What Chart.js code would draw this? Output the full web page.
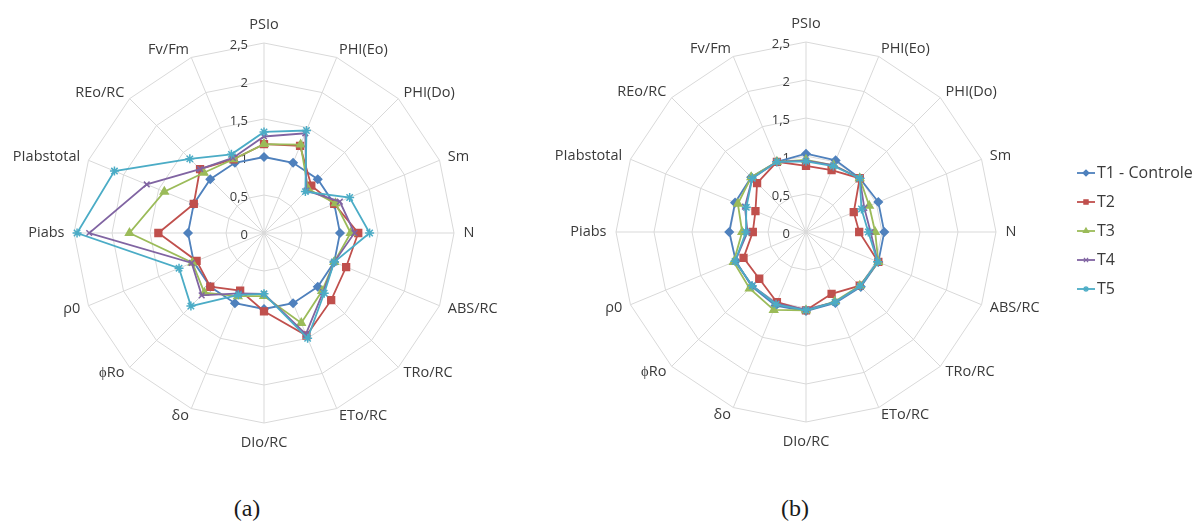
<!DOCTYPE html>
<html>
<head>
<meta charset="utf-8">
<script src="https://cdn.jsdelivr.net/npm/chart.js@4.4.1/dist/chart.umd.min.js"></script>
<style>
  body { margin: 0; background: #fff; width: 1203px; height: 525px; overflow: hidden; position: relative; }
  canvas { position: absolute; top: 0; }
  #chartA { left: 0; }
  #chartB { left: 540px; }
  .cap { position: absolute; top: 494px; font-family: "Liberation Serif", serif; font-size: 24px; line-height: 28px; color: #1a1a1a; transform: translateX(-50%); }
</style>
</head>
<body>
<canvas id="chartA" width="540" height="470"></canvas>
<canvas id="chartB" width="663" height="470"></canvas>
<div class="cap" style="left:247px">(a)</div>
<div class="cap" style="left:795px">(b)</div>
<script>
const categories = ['PSIo', 'PHI(Eo)', 'PHI(Do)', 'Sm', 'N', 'ABS/RC', 'TRo/RC', 'ETo/RC',
  'DIo/RC', 'δo', 'ϕRo', 'ρ0', 'Piabs', 'PIabstotal', 'REo/RC', 'Fv/Fm'];
const seriesNames = ['T1 - Controle', 'T2', 'T3', 'T4', 'T5'];
const tickValues = [0, 0.5, 1, 1.5, 2, 2.5];
const tickLabels = ['0', '0,5', '1', '1,5', '2', '2,5'];

// (a)
const a_T1 = [1, 1, 1, 1, 1, 1, 1, 1, 1, 1, 1, 1, 1, 1, 1, 1];
const a_T2 = [1.17, 1.24, 0.88, 1.0, 1.24, 1.17, 1.25, 1.46, 1.03, 0.82, 1.0, 0.96, 1.39, 1.0, 1.19, 1.05];
const a_T3 = [1.17, 1.26, 0.82, 1.02, 1.14, 1.0, 1.08, 1.28, 0.83, 0.9, 1.11, 1.02, 1.77, 1.42, 1.12, 1.05];
const a_T4 = [1.27, 1.42, 0.79, 1.08, 1.19, 1.0, 1.1, 1.44, 0.8, 0.86, 1.16, 1.03, 2.3, 1.67, 1.19, 1.07];
const a_T5 = [1.33, 1.46, 0.77, 1.22, 1.39, 1.0, 1.12, 1.5, 0.8, 0.88, 1.36, 1.21, 2.46, 2.13, 1.38, 1.12];

// (b)
const b_T1 = [1.03, 1.02, 1.0, 1.03, 1.03, 1.03, 1.02, 1.01, 1.04, 1.05, 1.01, 1.0, 1.01, 1.01, 1.02, 1.0];
const b_T2 = [0.87, 0.88, 1.0, 0.68, 0.70, 1.03, 1.0, 0.88, 1.03, 1.0, 0.87, 0.89, 0.70, 0.72, 0.91, 1.0];
const b_T3 = [0.95, 0.95, 1.0, 0.90, 0.91, 1.03, 1.0, 0.99, 1.03, 1.11, 1.05, 1.03, 0.84, 0.97, 1.02, 1.0];
const b_T4 = [0.94, 0.95, 1.0, 0.83, 0.85, 1.02, 1.01, 1.0, 1.02, 1.02, 1.0, 1.01, 0.77, 0.87, 1.0, 1.0];
const b_T5 = [0.93, 0.94, 1.0, 0.79, 0.82, 1.02, 1.01, 1.0, 1.03, 1.03, 1.0, 1.01, 0.79, 0.85, 1.0, 1.0];

const colors = ['#4F81BD', '#C0504D', '#9BBB59', '#8064A2', '#4BACC6'];
const markers = ['rectRot', 'rect', 'triangle', 'crossRot', 'star'];
const markerSize = [4, 4.8, 4.5, 4, 4.5];

function makeSets(series) {
  return series.map((vals, i) => ({
    label: seriesNames[i],
    data: vals,
    borderColor: colors[i],
    backgroundColor: colors[i],
    pointBackgroundColor: colors[i],
    pointBorderColor: colors[i],
    pointStyle: markers[i],
    pointRadius: markerSize[i],
    pointBorderWidth: 1.5,
    borderWidth: 1.8,
    fill: false,
    order: 5 - i
  }));
}

// axis labels and tick labels drawn Excel-style around the radial scale
const excelLabels = {
  id: 'excelLabels',
  beforeDatasetsDraw(chart) {
    const s = chart.scales.r;
    const ctx = chart.ctx;
    const n = chart.data.labels.length;
    ctx.save();
    ctx.fillStyle = '#3a3a3a';
    ctx.textBaseline = 'middle';
    ctx.font = '14.5px "Open Sans"';
    chart.data.labels.forEach((lab, i) => {
      const a = i * 2 * Math.PI / n;
      const sin = Math.sin(a), cos = Math.cos(a);
      const p = s.getPointPosition(i, s.drawingArea);
      let x = p.x, y = p.y;
      if (Math.abs(sin) < 1e-6) {
        ctx.textAlign = 'center';
        y += cos > 0 ? -18 : 20;
      } else {
        const gap = 1 + 8.5 * sin * sin;
        ctx.textAlign = sin > 0 ? 'left' : 'right';
        x += sin > 0 ? gap : -gap;
        y -= 8.3 * cos;
      }
      ctx.fillText(lab, x, y);
    });
    ctx.font = '13px "Open Sans"';
    ctx.textAlign = 'right';
    tickValues.forEach((v, i) => {
      const y = s.yCenter - s.getDistanceFromCenterForValue(v) + 2;
      ctx.fillText(tickLabels[i], s.xCenter - 16, y);
    });
    ctx.restore();
  }
};

// legend with a short line and marker, like the spreadsheet one
const sideLegend = {
  id: 'sideLegend',
  afterDraw(chart) {
    const ctx = chart.ctx;
    const x0 = 537, y0 = 173, step = 29;
    ctx.save();
    chart.data.datasets.forEach((ds, i) => {
      const y = y0 + i * step;
      ctx.strokeStyle = ds.borderColor;
      ctx.lineWidth = 1.8;
      ctx.beginPath();
      ctx.moveTo(x0, y);
      ctx.lineTo(x0 + 18, y);
      ctx.stroke();
      ctx.fillStyle = ds.borderColor;
      ctx.lineWidth = 1.2;
      Chart.helpers.drawPoint(ctx, { pointStyle: ds.pointStyle, radius: 3, rotation: 0, borderWidth: 1.2 }, x0 + 9, y);
      ctx.fillStyle = '#3a3a3a';
      ctx.font = '16px "Open Sans"';
      ctx.textAlign = 'left';
      ctx.textBaseline = 'middle';
      ctx.fillText(ds.label, x0 + 20, y);
    });
    ctx.restore();
  }
};

function radarOptions(pad) {
  return {
    responsive: false,
    animation: false,
    layout: { padding: pad },
    elements: { line: { tension: 0 } },
    plugins: { legend: { display: false }, tooltip: { enabled: false } },
    scales: {
      r: {
        min: 0,
        max: 2.5,
        ticks: { display: false, stepSize: 0.5 },
        grid: { color: '#d9d9d9', lineWidth: 1 },
        angleLines: { color: '#d9d9d9', lineWidth: 1 },
        pointLabels: { display: false }
      }
    }
  };
}

new Chart(document.getElementById('chartA'), {
  type: 'radar',
  data: { labels: categories, datasets: makeSets([a_T1, a_T2, a_T3, a_T4, a_T5]) },
  options: radarOptions({ left: 74, top: 43, right: 86, bottom: 47 }),
  plugins: [excelLabels]
});

new Chart(document.getElementById('chartB'), {
  type: 'radar',
  data: { labels: categories, datasets: makeSets([b_T1, b_T2, b_T3, b_T4, b_T5]) },
  options: radarOptions({ left: 76, top: 42, right: 207, bottom: 48 }),
  plugins: [excelLabels, sideLegend]
});
</script>
</body>
</html>
